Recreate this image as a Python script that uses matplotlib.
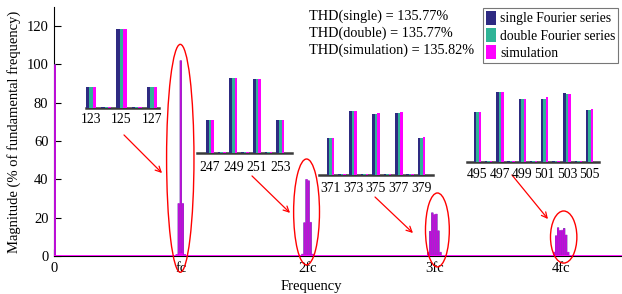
import matplotlib
matplotlib.use("Agg")
import matplotlib.pyplot as plt
from matplotlib.patches import Ellipse, Patch

plt.rcParams["font.family"] = ["Liberation Serif", "DejaVu Serif"]
plt.rcParams["font.size"] = 10.5

# harmonic orders (multiples of the fundamental) and magnitudes in % of fundamental
orders = [1,
          121, 123, 124, 125, 126, 127, 129,
          245, 247, 248, 249, 250, 251, 252, 253, 255,
          369, 371, 372, 373, 374, 375, 376, 377, 378, 379, 381,
          493, 495, 496, 497, 498, 499, 500, 501, 502, 503, 504, 505, 507]
single = [100.0,
          0.8, 27.4, 1.6, 102.0, 1.6, 27.4, 0.8,
          1.0, 17.4, 0.7, 40.0, 0.6, 39.3, 0.7, 17.6, 1.0,
          2.0, 13.0, 0.4, 22.6, 0.4, 21.6, 0.4, 21.9, 0.4, 13.2, 2.0,
          2.0, 10.6, 0.3, 14.8, 0.3, 13.3, 0.3, 13.4, 0.3, 14.5, 0.3, 11.0, 2.0]
double = [100.0,
          0.8, 27.4, 1.6, 102.0, 1.6, 27.4, 0.8,
          1.0, 17.4, 0.7, 40.0, 0.6, 39.3, 0.7, 17.6, 1.0,
          2.0, 13.0, 0.4, 22.6, 0.4, 21.6, 0.4, 21.9, 0.4, 13.2, 2.0,
          2.0, 10.6, 0.3, 14.8, 0.3, 13.3, 0.3, 13.3, 0.3, 14.4, 0.3, 11.0, 2.0]
simulation = [100.0,
              1.0, 27.6, 1.6, 102.2, 1.6, 27.6, 1.0,
              1.2, 17.6, 0.7, 40.2, 0.6, 39.5, 0.7, 17.8, 1.2,
              2.2, 13.1, 0.4, 22.7, 0.4, 21.8, 0.4, 22.1, 0.4, 13.3, 2.2,
              2.2, 10.6, 0.3, 14.8, 0.3, 13.3, 0.3, 13.7, 0.3, 14.4, 0.3, 11.1, 2.2]

series_names = ["single Fourier series", "double Fourier series", "simulation"]
series_colors = ["#2E2A82", "#30B496", "#FF00FF"]
thd_lines = ["THD(single) = 135.77%", "THD(double) = 135.77%",
             "THD(simulation) = 135.82%"]

xtick_pos = [0, 125, 250, 375, 500]
xtick_labels = ["0", "fc", "2fc", "3fc", "4fc"]

W, H = 622, 294
fig = plt.figure(figsize=(W / 100, H / 100), dpi=100)


def add_px_axes(x0, x1, ytop, ybot):
    return fig.add_axes([x0 / W, 1 - ybot / H, (x1 - x0) / W, (ybot - ytop) / H])


# ---- main spectrum (at ~1 px per order the series overlap; simulation drawn
# semi-transparent on top so the overlap reads purple like the original)
ax = add_px_axes(54, 622, 7, 256)
all_series = [single, double, simulation]
main_alpha = [1.0, 1.0, 0.7]
main_z = [3, 2, 4]
for vals, col, a, z in zip(all_series, series_colors, main_alpha, main_z):
    ax.bar(orders, vals, width=1.9, color=col, alpha=a, linewidth=0,
           zorder=z, clip_on=False, snap=False)
ax.axhline(0, color="#FF00FF", lw=2, zorder=6)
ax.set_xlim(0, 560)
ax.set_ylim(0, 130)
ax.set_yticks(range(0, 121, 20))
ax.set_xticks(xtick_pos)
ax.set_xticklabels(xtick_labels)
ax.tick_params(direction="in", length=5, width=0.8, pad=4)
ax.spines["top"].set_visible(False)
ax.spines["right"].set_visible(False)
ax.spines["left"].set_zorder(1)
ax.set_ylabel("Magnitude (% of fundamental frequency)", labelpad=4)
ax.set_xlabel("Frequency", labelpad=1)
ax.xaxis.set_label_coords((311 - 54) / 568, -0.095)

# ellipses around each sideband cluster: (x centre, y centre, width, height) in data units
ellipses = [(124.5, 51.0, 27.0, 119.0), (249.0, 23.0, 25.5, 55.3),
            (378.0, 13.6, 23.5, 38.6), (502.5, 9.9, 26.0, 27.2)]
for cx, cy, w, h in ellipses:
    ax.add_patch(Ellipse((cx, cy), w, h, fill=False, edgecolor="red",
                         lw=1.0, clip_on=False, zorder=7))

arrows = [((69.0, 63.2), (106.5, 43.3)), ((195.2, 41.8), (232.7, 22.5)),
          ((316.5, 30.8), (353.9, 12.0)), ((451.5, 42.3), (487.0, 19.3))]
for start, end in arrows:
    ax.annotate("", xy=end, xytext=start,
                arrowprops=dict(arrowstyle="->", color="red", lw=0.9,
                                mutation_scale=10, shrinkA=0, shrinkB=0))

# ---- zoomed insets: (px box, xlim, ymax, ticks, label pad)
insets = [
    ((86, 159, 29, 108), (122.67, 127.46), 102.0, [123, 125, 127], 3.5),
    ((197, 292, 78, 153), (245.9, 254.0), 40.0, [247, 249, 251, 253], 6.0),
    ((319, 433, 111, 175), (370.0, 380.0), 22.6, [371, 373, 375, 377, 379], 5.0),
    ((467, 599, 92, 162), (494.06, 505.85), 14.8, [495, 497, 499, 501, 503, 505], 4.0),
]
for (x0, x1, yt, yb), xl, ymax, ticks, pad in insets:
    ia = add_px_axes(x0, x1, yt, yb)
    ia.patch.set_alpha(0)
    for k, (vals, col) in enumerate(zip(all_series, series_colors)):
        xs = [o + (k - 1) * 0.22 for o in orders]
        ia.bar(xs, vals, width=0.22, color=col, linewidth=0, zorder=3)
    ia.set_xlim(*xl)
    ia.set_ylim(0, ymax)
    for s in ["top", "right", "left"]:
        ia.spines[s].set_visible(False)
    ia.spines["bottom"].set_color("#3a3a3a")
    ia.spines["bottom"].set_linewidth(1.8)
    ia.spines["bottom"].set_zorder(2)
    ia.set_yticks([])
    ia.set_xticks(ticks)
    ia.tick_params(axis="x", length=0, pad=pad, labelsize=9.8)

# ---- THD text
for i, line in enumerate(thd_lines):
    fig.text(309 / W, 1 - (16 + i * 17) / H, line, ha="left", va="center", fontsize=10.3)

# ---- legend
handles = [Patch(facecolor=c, edgecolor="none", label=n)
           for n, c in zip(series_names, series_colors)]
leg = fig.legend(handles=handles, loc="upper left", bbox_to_anchor=(483 / W, 1 - 8 / H),
                 frameon=True, fancybox=False, fontsize=9.8, borderpad=0.2,
                 handlelength=0.75, handleheight=1.2, handletextpad=0.3,
                 labelspacing=0.2, borderaxespad=0)
leg.get_frame().set_edgecolor("#555555")
leg.get_frame().set_linewidth(0.8)

fig.savefig("out.png", dpi=100)
